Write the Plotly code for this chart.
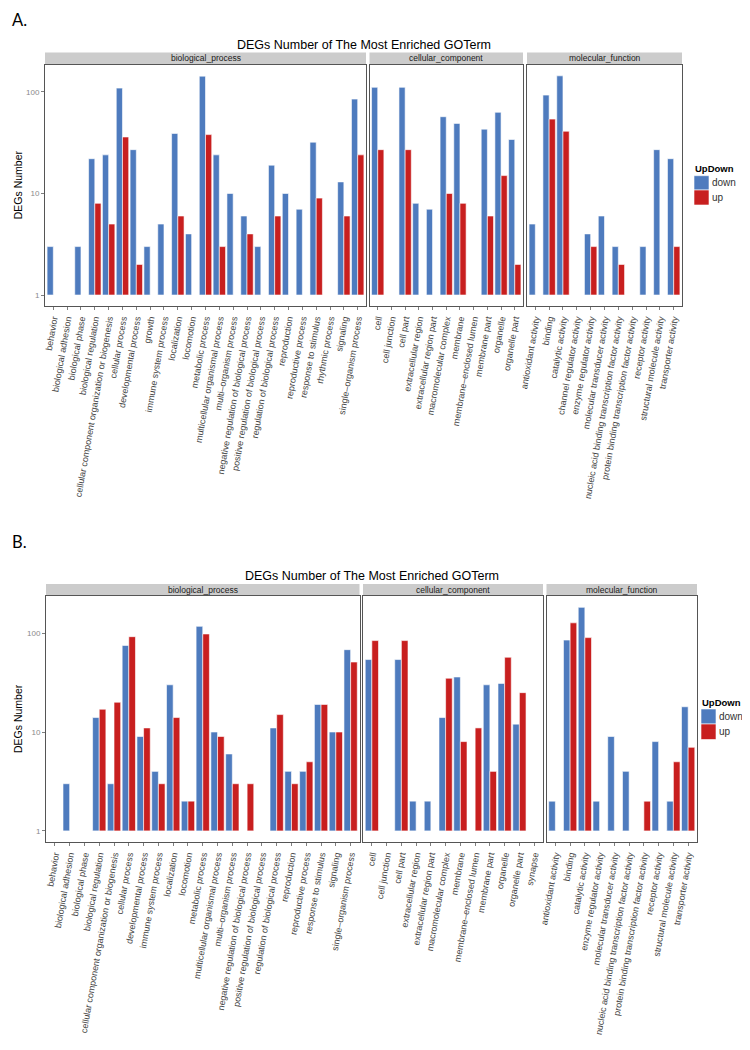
import plotly.graph_objects as go

# The page body has an 8px margin on every side, so the figure is sized to
# fit inside it (no scrollbars) and all pixel geometry is shifted by 8px.
OFF = 8
W, H = 750 - 2 * OFF, 1050 - 2 * OFF

# ---------------- Panel A data ----------------
bp_terms_A = [
    "behavior", "biological adhesion", "biological phase", "biological regulation",
    "cellular component organization or biogenesis", "cellular process",
    "developmental process", "growth", "immune system process", "localization",
    "locomotion", "metabolic process", "multicellular organismal process",
    "multi–organism process", "negative regulation of biological process",
    "positive regulation of biological process", "regulation of biological process",
    "reproduction", "reproductive process", "response to stimulus",
    "rhythmic process", "signaling", "single–organism process",
]
bp_down_A = [3, None, 3, 22, 24, 109, 27, 3, 5, 39, 4, 143, 24, 10, 6, 3, 19, 10, 7, 32, None, 13, 85]
bp_up_A = [None, None, None, 8, 5, 36, 2, None, None, 6, None, 38, 3, None, 4, None, 6, None, None, 9, None, 6, 24]

cc_terms_A = [
    "cell", "cell junction", "cell part", "extracellular region",
    "extracellular region part", "macromolecular complex", "membrane",
    "membrane–enclosed lumen", "membrane part", "organelle", "organelle part",
]
cc_down_A = [111, None, 111, 8, 7, 57, 49, None, 43, 63, 34]
cc_up_A = [27, None, 27, None, None, 10, 8, None, 6, 15, 2]

mf_terms_A = [
    "antioxidant activity", "binding", "catalytic activity",
    "channel regulator activity", "enzyme regulator activity",
    "molecular transducer activity",
    "nucleic acid binding transcription factor activity",
    "protein binding transcription factor activity", "receptor activity",
    "structural molecule activity", "transporter activity",
]
mf_down_A = [5, 93, 144, None, 4, 6, 3, None, 3, 27, 22]
mf_up_A = [None, 54, 41, None, 3, None, 2, None, None, None, 3]

# ---------------- Panel B data ----------------
bp_terms_B = [
    "behavior", "biological adhesion", "biological phase", "biological regulation",
    "cellular component organization or biogenesis", "cellular process",
    "developmental process", "immune system process", "localization",
    "locomotion", "metabolic process", "multicellular organismal process",
    "multi–organism process", "negative regulation of biological process",
    "positive regulation of biological process", "regulation of biological process",
    "reproduction", "reproductive process", "response to stimulus",
    "signaling", "single–organism process",
]
bp_down_B = [None, 3, None, 14, 3, 75, 9, 4, 30, 2, 117, 10, 6, None, None, 11, 4, 4, 19, 10, 68]
bp_up_B = [None, None, None, 17, 20, 92, 11, 3, 14, 2, 98, 9, 3, 3, None, 15, 3, 5, 19, 10, 51]

cc_terms_B = [
    "cell", "cell junction", "cell part", "extracellular region",
    "extracellular region part", "macromolecular complex", "membrane",
    "membrane–enclosed lumen", "membrane part", "organelle", "organelle part",
    "synapse",
]
cc_down_B = [54, None, 54, 2, 2, 14, 36, None, 30, 31, 12, None]
cc_up_B = [84, None, 84, None, None, 35, 8, 11, 4, 57, 25, None]

mf_terms_B = [
    "antioxidant activity", "binding", "catalytic activity",
    "enzyme regulator activity", "molecular transducer activity",
    "nucleic acid binding transcription factor activity",
    "protein binding transcription factor activity", "receptor activity",
    "structural molecule activity", "transporter activity",
]
mf_down_B = [2, 85, 182, 2, 9, 4, None, 8, 2, 18]
mf_up_B = [None, 127, 90, None, None, None, 2, None, 5, 7]

facet_names = ["biological_process", "cellular_component", "molecular_function"]
series_names = ["down", "up"]
legend_title = "UpDown"
title_text = "DEGs Number of The Most Enriched GOTerm"

# ---------------- styling / layout (pixel geometry) ----------------
BLUE = "#4E7BBE"
RED = "#C81F1F"
COLORS = [BLUE, RED]
FONT = "Liberation Sans"


def fx(p):
    return (p - OFF) / W


def fy(p):
    return 1 - (p - OFF) / H


panels = [
    dict(
        label="A.", label_top=8, title_y=45,
        facets=[(bp_terms_A, bp_down_A, bp_up_A), (cc_terms_A, cc_down_A, cc_up_A),
                (mf_terms_A, mf_down_A, mf_up_A)],
        xpix=[(45, 366), (369.5, 523), (527, 682)],
        ypix=(64.5, 306), strip=(52.5, 64), yrange=[-0.108, 2.27],
        leg=dict(x=694, title_y=168.3, keys=[(175.7, 190), (190, 205)]),
    ),
    dict(
        label="B.", label_top=530, title_y=576,
        facets=[(bp_terms_B, bp_down_B, bp_up_B), (cc_terms_B, cc_down_B, cc_up_B),
                (mf_terms_B, mf_down_B, mf_up_B)],
        xpix=[(46, 359.5), (363, 543), (546.5, 697)],
        ypix=(596, 842), strip=(584, 595.5), yrange=[-0.112, 2.375],
        leg=dict(x=701, title_y=702, keys=[(709, 724), (724, 739.5)]),
    ),
]

fig = go.Figure()
layout = dict(
    width=W, height=H, template="none",
    margin=dict(l=0, r=0, t=0, b=0),
    paper_bgcolor="white", plot_bgcolor="white",
    barmode="group", bargap=0.1, bargroupgap=0,
    font=dict(family=FONT, color="#333333"),
    showlegend=False,
    shapes=[], annotations=[],
)

k = 0
for pi, pan in enumerate(panels):
    for fi, (terms, down, up) in enumerate(pan["facets"]):
        k += 1
        xa = "x" if k == 1 else f"x{k}"
        ya = "y" if k == 1 else f"y{k}"
        for si, vals in enumerate([down, up]):
            fig.add_trace(go.Bar(
                x=terms,
                y=[None if v is None else v - 1 for v in vals],
                base=1,
                customdata=vals,
                name=series_names[si],
                marker=dict(color=COLORS[si], line=dict(color="rgba(255,255,255,0.75)", width=0.8)),
                xaxis=xa, yaxis=ya,
                hovertemplate="%{x}<br>" + series_names[si] + ": %{customdata}<extra></extra>",
            ))
        x0, x1 = pan["xpix"][fi]
        y0, y1 = pan["ypix"]
        n = len(terms)
        layout["xaxis" if k == 1 else f"xaxis{k}"] = dict(
            domain=[fx(x0), fx(x1)], anchor=ya, type="category",
            categoryorder="array", categoryarray=terms, range=[-0.6, n - 0.4],
            tickangle=-80, tickfont=dict(size=9, color="#444444", family=FONT),
            ticks="outside", ticklen=3, tickcolor="#7F7F7F", tickwidth=1,
            showline=True, mirror=True, linecolor="#555555", linewidth=1,
            showgrid=False, zeroline=False, automargin=False, fixedrange=True,
        )
        layout["yaxis" if k == 1 else f"yaxis{k}"] = dict(
            domain=[fy(y1), fy(y0)], anchor=xa, type="log", range=pan["yrange"],
            tickvals=[1, 10, 100], ticktext=["1", "10", "100"],
            showticklabels=(fi == 0), ticks="outside" if fi == 0 else "",
            ticklen=3, tickcolor="#7F7F7F", tickfont=dict(size=8, color="#8A8A8A", family=FONT),
            showline=True, mirror=True, linecolor="#555555", linewidth=1,
            showgrid=False, zeroline=False, automargin=False, fixedrange=True,
        )
        s0, s1 = pan["strip"]
        layout["shapes"].append(dict(
            type="rect", xref="paper", yref="paper",
            x0=fx(x0), x1=fx(x1), y0=fy(s1), y1=fy(s0),
            fillcolor="#CCCCCC", line=dict(width=0), layer="below",
        ))
        layout["annotations"].append(dict(
            text=facet_names[fi], xref="paper", yref="paper",
            x=fx((x0 + x1) / 2), y=fy((s0 + s1) / 2), xanchor="center", yanchor="middle",
            showarrow=False, font=dict(size=8.5, color="#1A1A1A", family=FONT),
        ))
    # panel title
    xl = pan["xpix"][0][0]
    xr = pan["xpix"][2][1]
    layout["annotations"].append(dict(
        text=title_text, xref="paper", yref="paper",
        x=fx((xl + xr) / 2), y=fy(pan["title_y"]), xanchor="center", yanchor="middle",
        showarrow=False, font=dict(size=12.5, color="black", family=FONT),
    ))
    # y-axis title
    y0, y1 = pan["ypix"]
    layout["annotations"].append(dict(
        text="DEGs Number", xref="paper", yref="paper",
        x=fx(18), y=fy((y0 + y1) / 2), xanchor="center", yanchor="middle",
        textangle=-90, showarrow=False, font=dict(size=10.5, color="black", family=FONT),
    ))
    # panel letter
    layout["annotations"].append(dict(
        text=pan["label"], xref="paper", yref="paper",
        x=fx(OFF + 2), y=fy(pan["label_top"]), xanchor="left", yanchor="top",
        showarrow=False, font=dict(size=16.5, color="black", family="Lato"),
    ))
    # legend (title, colour keys, labels)
    lg = pan["leg"]
    layout["annotations"].append(dict(
        text="<b>" + legend_title + "</b>", xref="paper", yref="paper",
        x=fx(lg["x"] - 1), y=fy(lg["title_y"]), xanchor="left", yanchor="middle",
        showarrow=False, font=dict(size=9.5, color="black", family=FONT),
    ))
    for si, (ky0, ky1) in enumerate(lg["keys"]):
        layout["shapes"].append(dict(
            type="rect", xref="paper", yref="paper",
            x0=fx(lg["x"]), x1=fx(lg["x"] + 15), y0=fy(ky1), y1=fy(ky0),
            fillcolor=COLORS[si], line=dict(color="rgba(255,255,255,0.75)", width=0.8),
        ))
        layout["annotations"].append(dict(
            text=series_names[si], xref="paper", yref="paper",
            x=fx(lg["x"] + 15.5), y=fy((ky0 + ky1) / 2), xanchor="left", yanchor="middle",
            showarrow=False, font=dict(size=10, color="#333333", family=FONT),
        ))

fig.update_layout(**layout)
fig.write_html("out.html")
